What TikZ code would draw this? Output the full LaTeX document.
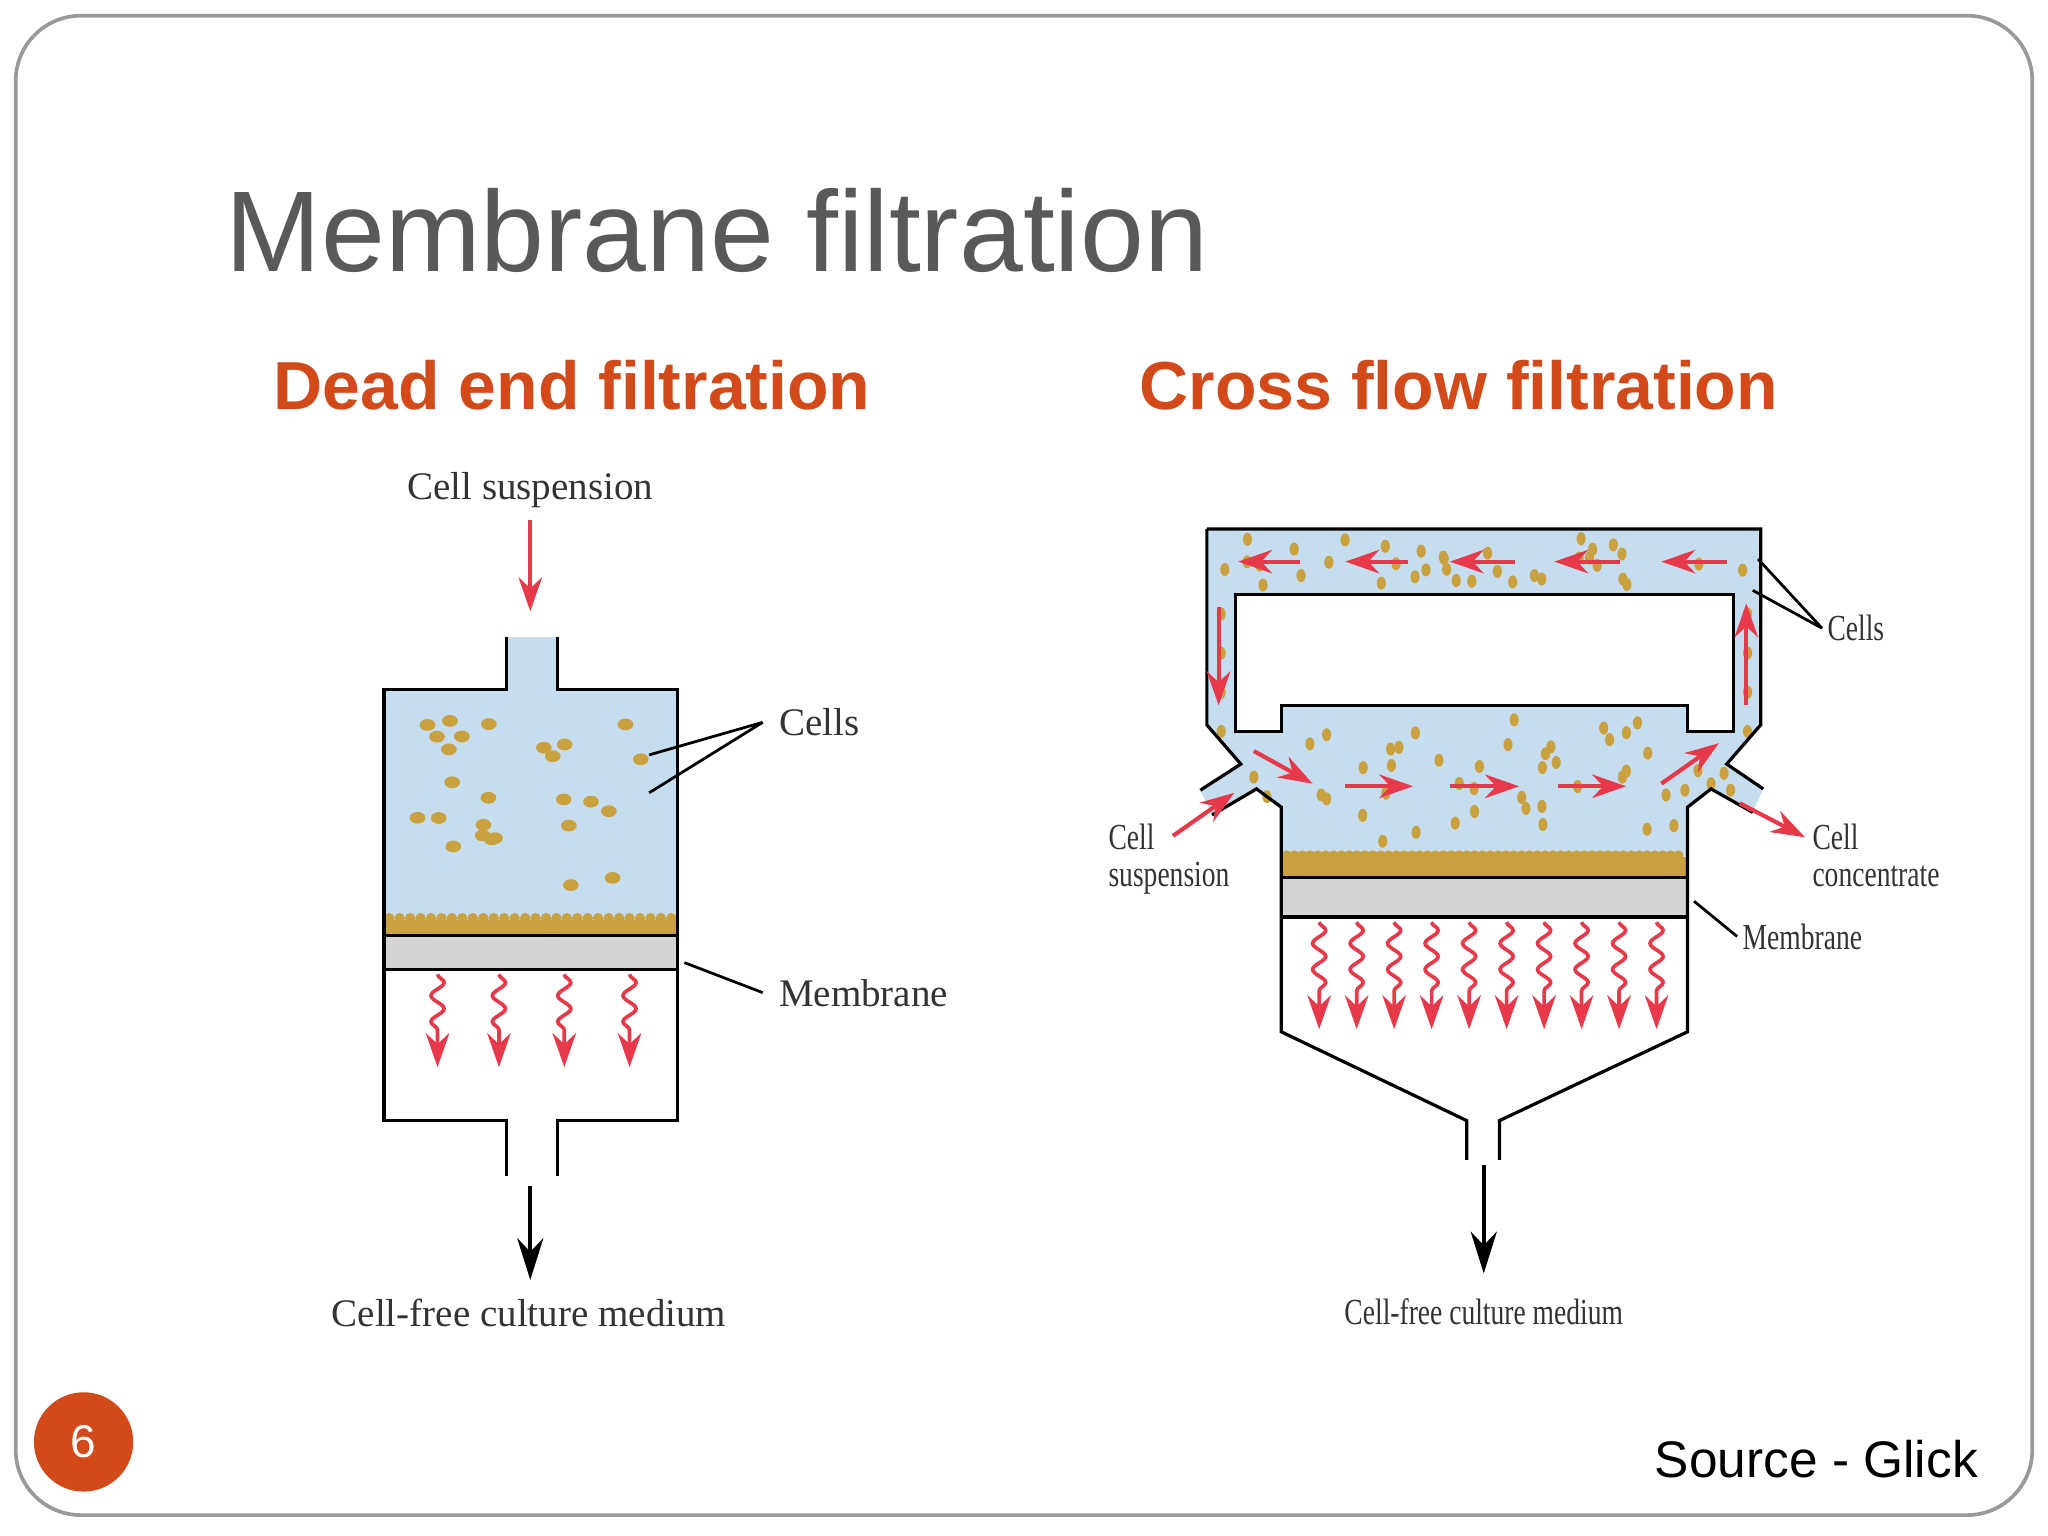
\documentclass[tikz,border=0pt]{standalone}
\usepackage{fontspec}
\setmainfont{Liberation Serif}
\setsansfont{Liberation Sans}
\usetikzlibrary{arrows.meta,decorations.pathmorphing}
\definecolor{blu}{HTML}{C6DDF0}
\definecolor{gold}{HTML}{C9A13F}
\definecolor{org}{HTML}{D24A1A}
\definecolor{rd}{HTML}{E8394A}
\definecolor{memb}{HTML}{D4D4D4}
\tikzset{
 ra/.style={rd,line width=0.9pt,-{Stealth[length=2.6mm,width=1.8mm]}},
 ba/.style={black,line width=0.8pt,-{Stealth[length=3.2mm,width=2mm]}},
 wav/.style={rd,line width=0.8pt,decorate,decoration={snake,amplitude=0.05cm,segment length=0.2cm,post length=0.25cm},-{Stealth[length=2.6mm,width=1.8mm]}},
 wall/.style={black,line width=0.7pt},
 lbl/.style={font=\fontsize{8.5}{10}\selectfont,text=black!80},
 lblc/.style={font=\fontsize{8}{8}\selectfont,text=black!80,align=left},
 cell/.style={fill=gold,draw=none},
}
\begin{document}
\begin{tikzpicture}[x=0.01cm,y=-0.01cm]
\useasboundingbox (0,0) rectangle (1568,1176);
\draw[gray!80,line width=0.8pt,rounded corners=0.5cm] (12,12) rectangle (1556,1160);
\node[anchor=base west,font=\sffamily\fontsize{25}{28}\selectfont,text=black!65,inner sep=0] (title) at (172,208) {Membrane filtration};
\node[font=\sffamily\bfseries\fontsize{14.8}{17}\selectfont,text=org] (h1) at (438,295) {Dead end filtration};
\node[font=\sffamily\bfseries\fontsize{14.8}{17}\selectfont,text=org] (h2) at (1117,295) {Cross flow filtration};
\node[circle,fill=org,minimum size=0.76cm,text=white,font=\sffamily\fontsize{10}{12}\selectfont] (pg) at (64,1104) {6};
\node[anchor=east,font=\sffamily\fontsize{11.2}{13}\selectfont,inner sep=0] (src) at (1515,1117) {Source - Glick};

% ---------- Dead end ----------
\node[lbl] (cs) at (406,375) {Cell suspension};
\coordinate (csa) at (406,398); \coordinate (csb) at (406,468);
\draw[ra] (csa) -- (csb);
\fill[blu] (388,488) rectangle (427,530);
\fill[blu] (294,528) rectangle (519,716);
\fill[gold] (294,704) rectangle (519,716);
\foreach \x in {298,306,...,516}{\fill[gold] (\x,703) circle (4);}
\pgfmathsetseed{11}
\foreach \i in {1,...,26}{
 \pgfmathsetmacro\xx{312+190*rnd}\pgfmathsetmacro\yy{545+140*rnd}
 \fill[cell] (\xx,\yy) ellipse (6 and 4.5);}
\fill[memb] (294,716) rectangle (519,742);
\draw[wall] (294,716) -- (519,716) (294,742) -- (519,742);
\draw[wall] (388,488) -- (388,528) -- (294,528) -- (294,858) -- (388,858) -- (388,900);
\draw[wall] (427,488) -- (427,528) -- (519,528) -- (519,858) -- (427,858) -- (427,900);
\foreach \x in {335,382,432,482}{\coordinate (wa) at (\x,746); \coordinate (wb) at (\x,817); \draw[wav] (wa) -- (wb);}
\coordinate (oa) at (406,908); \coordinate (ob) at (406,980);
\draw[ba] (oa) -- (ob);
\node[lbl] (cfm) at (405,1005) {Cell-free culture medium};
\node[lbl,anchor=west] (cells1) at (584,553) {Cells};
\draw[black,line width=0.6pt] (cells1.west) -- (497,578) (cells1.west) -- (497,607);
\node[lbl,anchor=west] (mem1) at (584,760) {Membrane};
\draw[black,line width=0.6pt] (mem1.west) -- (524,737);

% ---------- Cross flow ----------
\fill[blu] (924,405) -- (1348,405) -- (1348,555) -- (1322,585) -- (1350,604) -- (1342,622) -- (1310,604) -- (1292,618) -- (1292,672) -- (981,672) -- (981,618) -- (962,604) -- (928,624) -- (919,605) -- (950,585) -- (924,555) -- cycle;
\fill[white] (946,455) -- (946,560) -- (981,560) -- (981,540) -- (1292,540) -- (1292,560) -- (1327,560) -- (1327,455) -- cycle;
\fill[gold] (981,656) rectangle (1292,672);
\foreach \x in {985,991,...,1290}{\fill[gold] (\x,655) circle (4);}
\pgfmathsetseed{5}
\foreach \i in {1,...,36}{
 \pgfmathsetmacro\xx{932+405*rnd}\pgfmathsetmacro\yy{411+37*rnd}
 \fill[cell] (\xx,\yy) ellipse (3.5 and 5);}
\foreach \i in {1,...,40}{
 \pgfmathsetmacro\xx{990+295*rnd}\pgfmathsetmacro\yy{550+95*rnd}
 \fill[cell] (\xx,\yy) ellipse (3.5 and 5);}
\foreach \y in {470,500,530,560}{\fill[cell] (935,\y) ellipse (3.5 and 5); \fill[cell] (1338,\y) ellipse (3.5 and 5);}
\foreach \p in {(1300,590),(1310,600),(1320,592),(1325,605),(1290,605),(960,595),(970,610)}{\fill[cell] \p ellipse (3.5 and 5);}
\fill[memb] (981,672) rectangle (1292,702);
\draw[wall] (924,405) -- (1348,405) -- (1348,555) -- (1322,585) -- (1350,604);
\draw[wall] (1342,622) -- (1310,604) -- (1292,618) -- (1292,790) -- (1148,858) -- (1148,888);
\draw[wall] (924,405) -- (924,555) -- (950,585) -- (919,605);
\draw[wall] (928,624) -- (962,604) -- (981,618) -- (981,790) -- (1123,858) -- (1123,888);
\draw[wall] (946,455) -- (946,560) -- (981,560) -- (981,540) -- (1292,540) -- (1292,560) -- (1327,560) -- (1327,455) -- cycle;
\draw[wall] (981,672) -- (1292,672) (981,702) -- (1292,702);
\foreach \i in {0,...,9}{\pgfmathsetmacro\xx{1010+28.7*\i}\coordinate (wa) at (\xx,706); \coordinate (wb) at (\xx,788); \draw[wav] (wa) -- (wb);}
\foreach \a/\b in {995/948,1078/1030,1160/1110,1240/1190,1322/1272}{\coordinate (ta) at (\a,430); \coordinate (tb) at (\b,430); \draw[ra] (ta) -- (tb);}
\foreach \a/\b in {1030/1082,1110/1163,1193/1245}{\coordinate (ta) at (\a,602); \coordinate (tb) at (\b,602); \draw[ra] (ta) -- (tb);}
\coordinate (l1) at (933,465); \coordinate (l2) at (933,540); \draw[ra] (l1) -- (l2);
\coordinate (r1) at (1337,540); \coordinate (r2) at (1337,462); \draw[ra] (r1) -- (r2);
\coordinate (d1) at (960,575); \coordinate (d2) at (1005,600); \draw[ra] (d1) -- (d2);
\coordinate (u1) at (1272,600); \coordinate (u2) at (1316,569); \draw[ra] (u1) -- (u2);
\coordinate (i1) at (898,640); \coordinate (i2) at (945,607); \draw[ra] (i1) -- (i2);
\coordinate (e1) at (1332,615); \coordinate (e2) at (1382,641); \draw[ra] (e1) -- (e2);
\coordinate (fa) at (1136,892); \coordinate (fb) at (1136,975);
\draw[ba] (fa) -- (fb);
\node[lblc] (cfm2) at (1136,1004) {\scalebox{0.75}[1]{Cell-free culture medium}};
\node[lblc,anchor=north west,inner sep=0] (csl) at (848,630) {\scalebox{0.75}[1]{Cell}\\[0pt]\scalebox{0.75}[1]{suspension}};
\node[lblc,anchor=north west,inner sep=0] (ccl) at (1387,630) {\scalebox{0.75}[1]{Cell}\\[0pt]\scalebox{0.75}[1]{concentrate}};
\node[lblc,anchor=west,inner sep=1pt] (cells2) at (1395,481) {\scalebox{0.75}[1]{Cells}};
\draw[black,line width=0.6pt] (cells2.west) -- (1346,428) (cells2.west) -- (1342,452);
\node[lblc,anchor=west,inner sep=1pt] (mem2) at (1330,717) {\scalebox{0.75}[1]{Membrane}};
\draw[black,line width=0.6pt] (mem2.west) -- (1297,690);
\end{tikzpicture}
\end{document}
